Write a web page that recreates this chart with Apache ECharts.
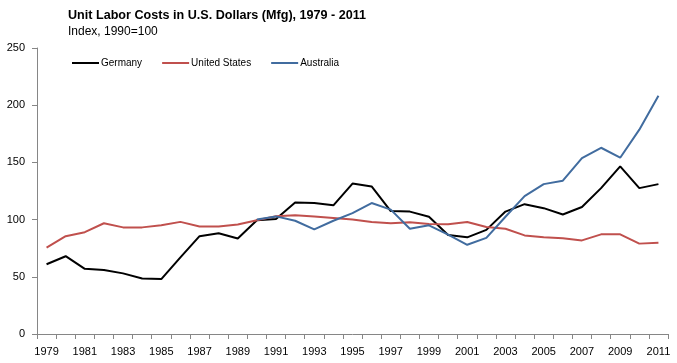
<!DOCTYPE html>
<html><head><meta charset="utf-8">
<script src="https://cdn.jsdelivr.net/npm/echarts@6/dist/echarts.min.js"></script>
<style>html,body{margin:0;padding:0;background:#fff}#c{width:677px;height:363px}</style>
</head><body><div id="c"></div>
<script>
const years = ['1979','1980','1981','1982','1983','1984','1985','1986','1987','1988','1989','1990','1991','1992','1993','1994','1995','1996','1997','1998','1999','2000','2001','2002','2003','2004','2005','2006','2007','2008','2009','2010','2011'];
const germany = [61,68,57,56,53,48.5,48,67,85.5,88,83.5,99.5,100.5,115,114.5,112.5,131.5,129,107.5,107,102.5,86.5,84.5,91,107,113.5,110,104.5,111,127.5,146.5,127.5,131];
const unitedStates = [75.5,85.5,89,96.8,93.2,93.2,95,98,94,94,95.8,99.5,103,103.8,102.8,101.5,100,98,96.8,97.6,96.2,96,97.9,93.5,92,86.2,84.6,83.6,81.8,87.1,87.1,79,79.8];
const australia = [null,null,null,null,null,null,null,null,null,null,null,100,102.8,99,91.4,99,105.7,114.5,108.7,92,95,86.8,78,84,102.5,120.5,131,134,153.8,162.8,154.1,178.6,208.3];
const yTicks = [0,50,100,150,200,250];

const chart = echarts.init(document.getElementById('c'));
chart.setOption({
  animation: false,
  title: [
    {text: 'Unit Labor Costs in U.S. Dollars (Mfg), 1979 - 2011', left: 68, top: 9, padding: 0,
     textStyle: {fontFamily: 'Liberation Sans', fontSize: 12.6, fontWeight: 'bold', color: '#000'}},
    {text: 'Index, 1990=100', left: 68, top: 26, padding: 0,
     textStyle: {fontFamily: 'Liberation Sans', fontSize: 12, fontWeight: 'normal', color: '#000'}}
  ],
  legend: {
    left: 72, top: 58, padding: 0, itemWidth: 27, itemHeight: 2, itemGap: 20,
    icon: 'rect',
    textStyle: {fontFamily: 'Liberation Sans', fontSize: 10, color: '#000', padding: [0,0,0,-3]},
    data: ['Germany','United States','Australia']
  },
  grid: {left: 37, right: 9, top: 48, bottom: 29, containLabel: false},
  xAxis: {
    type: 'category', data: years, boundaryGap: true,
    axisLine: {lineStyle: {color: '#868686', width: 1}},
    axisTick: {show: true, interval: 0, length: 5, lineStyle: {color: '#868686'}},
    axisLabel: {interval: 1, color: '#000', fontFamily: 'Liberation Sans', fontSize: 11, margin: 12},
    splitLine: {show: false}
  },
  yAxis: {
    type: 'value', min: 0, max: 250, interval: 50,
    axisLine: {show: true, lineStyle: {color: '#868686', width: 1}},
    axisTick: {show: true, length: 5, lineStyle: {color: '#868686'}},
    axisLabel: {color: '#000', fontFamily: 'Liberation Sans', fontSize: 11, margin: 12,
      formatter: v => yTicks.includes(v) ? String(v) : ''},
    splitLine: {show: false}
  },
  series: [
    {name: 'Germany', type: 'line', data: germany, symbol: 'none', lineStyle: {color: '#000000', width: 2}, itemStyle: {color: '#000000'}},
    {name: 'United States', type: 'line', data: unitedStates, symbol: 'none', lineStyle: {color: '#C0504D', width: 2}, itemStyle: {color: '#C0504D'}},
    {name: 'Australia', type: 'line', data: australia, symbol: 'none', lineStyle: {color: '#416C9F', width: 2}, itemStyle: {color: '#416C9F'}}
  ]
});
</script></body></html>
